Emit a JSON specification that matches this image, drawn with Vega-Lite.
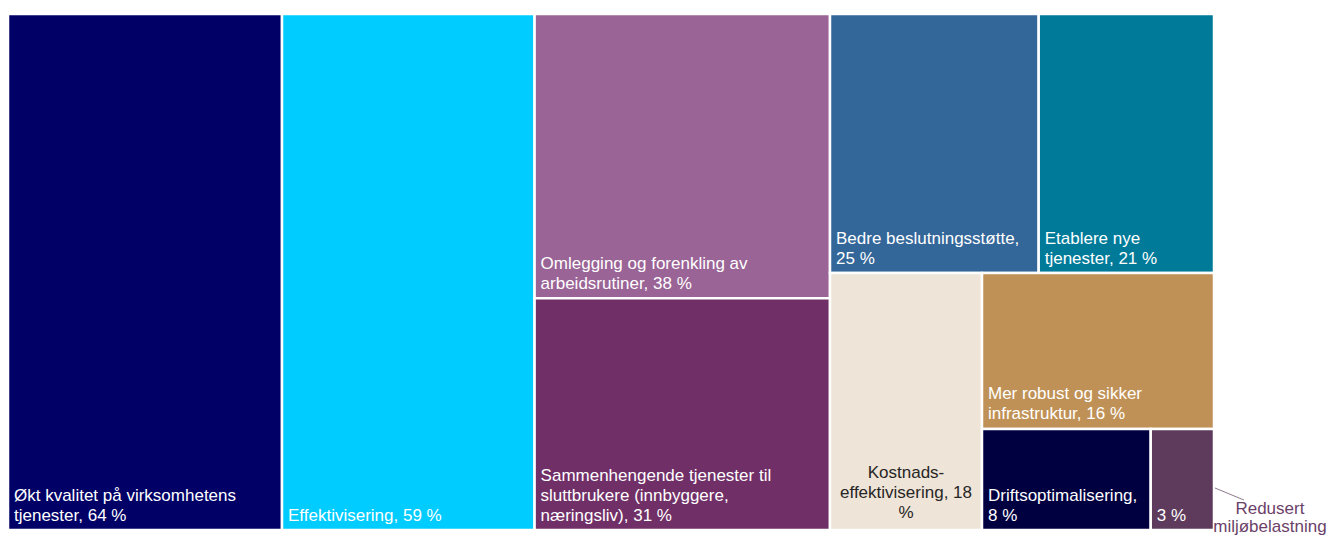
{
  "$schema": "https://vega.github.io/schema/vega-lite/v6.json",
  "padding": {"left": 6, "top": 12, "right": 0, "bottom": 0},
  "autosize": {"type": "pad"},
  "config": {
    "view": {"stroke": null},
    "text": {"font": "Liberation Sans", "fontSize": 17, "lineHeight": 20}
  },
  "datasets": {
    "items": [
      {"name": "Økt kvalitet på virksomhetens tjenester", "value": 64, "block": "A", "order": 1, "label": "Økt kvalitet på virksomhetens\ntjenester, 64 %"},
      {"name": "Effektivisering", "value": 59, "block": "B", "order": 2, "label": "Effektivisering, 59 %"},
      {"name": "Omlegging og forenkling av arbeidsrutiner", "value": 38, "block": "C", "order": 3, "label": "Omlegging og forenkling av\narbeidsrutiner, 38 %"},
      {"name": "Sammenhengende tjenester til sluttbrukere (innbyggere, næringsliv)", "value": 31, "block": "C", "order": 4, "label": "Sammenhengende tjenester til\nsluttbrukere (innbyggere,\nnæringsliv), 31 %"},
      {"name": "Bedre beslutningsstøtte", "value": 25, "block": "D1", "order": 5, "label": "Bedre beslutningsstøtte,\n25 %"},
      {"name": "Etablere nye tjenester", "value": 21, "block": "D1", "order": 6, "label": "Etablere nye\ntjenester, 21 %"},
      {"name": "Kostnadseffektivisering", "value": 18, "block": "D2", "order": 7, "label": "Kostnads-\neffektivisering, 18\n%"},
      {"name": "Mer robust og sikker infrastruktur", "value": 16, "block": "D3", "order": 8, "label": "Mer robust og sikker\ninfrastruktur, 16 %"},
      {"name": "Driftsoptimalisering", "value": 8, "block": "D4", "order": 9, "label": "Driftsoptimalisering,\n8 %"},
      {"name": "Redusert miljøbelastning", "value": 3, "block": "D4", "order": 10, "label": "3 %", "note": "Redusert\nmiljøbelastning"}
    ]
  },
  "data": {"name": "items"},
  "spacing": 0,
  "bounds": "flush",
  "hconcat": [
    {
      "width": 822,
      "height": 516,
      "transform": [
        {"filter": {"field": "block", "oneOf": ["A", "B", "C"]}},
        {"stack": "value", "groupby": [], "sort": [{"field": "order", "order": "ascending"}], "as": ["s0", "s1"]},
        {"joinaggregate": [{"op": "min", "field": "s0", "as": "cx0"}, {"op": "max", "field": "s1", "as": "cx1"}], "groupby": ["block"]},
        {"stack": "value", "groupby": ["block"], "sort": [{"field": "order", "order": "ascending"}], "offset": "normalize", "as": ["ny0", "ny1"]}
      ],
      "layer": [
        {
          "mark": {"type": "rect", "stroke": "white", "strokeWidth": 2.5},
          "encoding": {
            "x": {"field": "cx0", "type": "quantitative", "scale": {"nice": false}, "axis": null},
            "x2": {"field": "cx1"},
            "y": {"field": "ny0", "type": "quantitative", "scale": {"nice": false, "reverse": true}, "axis": null},
            "y2": {"field": "ny1"},
            "color": {"field": "name", "type": "nominal", "legend": null,
              "scale": {
                "domain": ["Økt kvalitet på virksomhetens tjenester", "Effektivisering", "Omlegging og forenkling av arbeidsrutiner", "Sammenhengende tjenester til sluttbrukere (innbyggere, næringsliv)", "Bedre beslutningsstøtte", "Etablere nye tjenester", "Kostnadseffektivisering", "Mer robust og sikker infrastruktur", "Driftsoptimalisering", "Redusert miljøbelastning"],
                "range": ["#000066", "#00CCFF", "#9A6496", "#702F67", "#336699", "#007A99", "#EEE4D7", "#BF9156", "#000040", "#5E3B5C"]
              }}
          }
        },
        {
          "mark": {"type": "text", "align": "left", "baseline": "bottom", "dx": 6, "dy": {"expr": "-5 - 20 * (length(split(datum.label, '\\n')) - 1)"}, "lineBreak": "\n", "fill": "white"},
          "encoding": {
            "x": {"field": "cx0", "type": "quantitative"},
            "y": {"field": "ny1", "type": "quantitative"},
            "text": {"field": "label", "type": "nominal"}
          }
        }
      ]
    },
    {
      "spacing": 0,
      "bounds": "flush",
      "vconcat": [
        {
          "width": 384,
          "height": 259,
          "transform": [
            {"filter": {"field": "block", "equal": "D1"}},
            {"stack": "value", "groupby": [], "sort": [{"field": "order", "order": "ascending"}], "offset": "normalize", "as": ["nx0", "nx1"]}
          ],
          "layer": [
            {
              "mark": {"type": "rect", "stroke": "white", "strokeWidth": 2.5},
              "encoding": {
                "x": {"field": "nx0", "type": "quantitative", "scale": {"nice": false}, "axis": null},
                "x2": {"field": "nx1"},
                "color": {"field": "name", "type": "nominal", "legend": null}
              }
            },
            {
              "mark": {"type": "text", "align": "left", "baseline": "bottom", "dx": 6, "dy": -25, "y": "height", "lineBreak": "\n", "fill": "white"},
              "encoding": {
                "x": {"field": "nx0", "type": "quantitative"},
                "text": {"field": "label", "type": "nominal"}
              }
            }
          ]
        },
        {
          "spacing": 0,
          "bounds": "flush",
          "hconcat": [
            {
              "width": 152,
              "height": 257,
              "transform": [
                {"filter": {"field": "block", "equal": "D2"}},
                {"stack": "value", "groupby": [], "offset": "normalize", "as": ["nx0", "nx1"]}
              ],
              "layer": [
                {
                  "mark": {"type": "rect", "stroke": "white", "strokeWidth": 2.5},
                  "encoding": {
                    "x": {"field": "nx0", "type": "quantitative", "scale": {"nice": false, "domain": [0, 1]}, "axis": null},
                    "x2": {"field": "nx1"},
                    "color": {"field": "name", "type": "nominal", "legend": null}
                  }
                },
                {
                  "mark": {"type": "text", "align": "center", "baseline": "bottom", "dy": -48, "y": "height", "lineBreak": "\n", "fill": "#262626"},
                  "encoding": {
                    "x": {"datum": 0.5, "type": "quantitative"},
                    "text": {"field": "label", "type": "nominal"}
                  }
                }
              ]
            },
            {
              "spacing": 0,
              "bounds": "flush",
              "vconcat": [
                {
                  "width": 232,
                  "height": 156,
                  "transform": [
                    {"filter": {"field": "block", "equal": "D3"}},
                    {"stack": "value", "groupby": [], "offset": "normalize", "as": ["nx0", "nx1"]}
                  ],
                  "layer": [
                    {
                      "mark": {"type": "rect", "stroke": "white", "strokeWidth": 2.5},
                      "encoding": {
                        "x": {"field": "nx0", "type": "quantitative", "scale": {"nice": false}, "axis": null},
                        "x2": {"field": "nx1"},
                        "color": {"field": "name", "type": "nominal", "legend": null}
                      }
                    },
                    {
                      "mark": {"type": "text", "align": "left", "baseline": "bottom", "dx": 6, "dy": -26, "y": "height", "lineBreak": "\n", "fill": "white"},
                      "encoding": {
                        "x": {"field": "nx0", "type": "quantitative"},
                        "text": {"field": "label", "type": "nominal"}
                      }
                    }
                  ]
                },
                {
                  "width": 232,
                  "height": 101,
                  "transform": [
                    {"filter": {"field": "block", "equal": "D4"}},
                    {"stack": "value", "groupby": [], "sort": [{"field": "order", "order": "ascending"}], "offset": "normalize", "as": ["nx0", "nx1"]}
                  ],
                  "layer": [
                    {
                      "mark": {"type": "rect", "stroke": "white", "strokeWidth": 2.5},
                      "encoding": {
                        "x": {"field": "nx0", "type": "quantitative", "scale": {"nice": false, "domain": [0, 1]}, "axis": null},
                        "x2": {"field": "nx1"},
                        "color": {"field": "name", "type": "nominal", "legend": null}
                      }
                    },
                    {
                      "mark": {"type": "text", "align": "left", "baseline": "bottom", "dx": 6, "dy": {"expr": "-5 - 20 * (length(split(datum.label, '\\n')) - 1)"}, "y": "height", "lineBreak": "\n", "fill": "white"},
                      "encoding": {
                        "x": {"field": "nx0", "type": "quantitative", "scale": {"domain": [0, 1]}},
                        "text": {"field": "label", "type": "nominal"}
                      }
                    },
                    {
                      "transform": [{"filter": "isValid(datum.note)"}],
                      "mark": {"type": "rule", "stroke": "#8C7A8C", "strokeWidth": 1},
                      "encoding": {
                        "x": {"datum": 1.004, "type": "quantitative", "scale": {"domain": [0, 1]}},
                        "x2": {"datum": 1.129},
                        "y": {"datum": 0.416, "type": "quantitative", "scale": {"domain": [0, 1], "nice": false}, "axis": null},
                        "y2": {"datum": 0.297}
                      }
                    },
                    {
                      "transform": [{"filter": "isValid(datum.note)"}],
                      "mark": {"type": "text", "align": "center", "baseline": "alphabetic", "lineBreak": "\n", "lineHeight": 18, "fill": "#6B3F69"},
                      "encoding": {
                        "x": {"datum": 1.241, "type": "quantitative", "scale": {"domain": [0, 1]}},
                        "y": {"datum": 0.155, "type": "quantitative", "scale": {"domain": [0, 1]}},
                        "text": {"field": "note", "type": "nominal"}
                      }
                    }
                  ]
                }
              ]
            }
          ]
        }
      ]
    }
  ]
}
